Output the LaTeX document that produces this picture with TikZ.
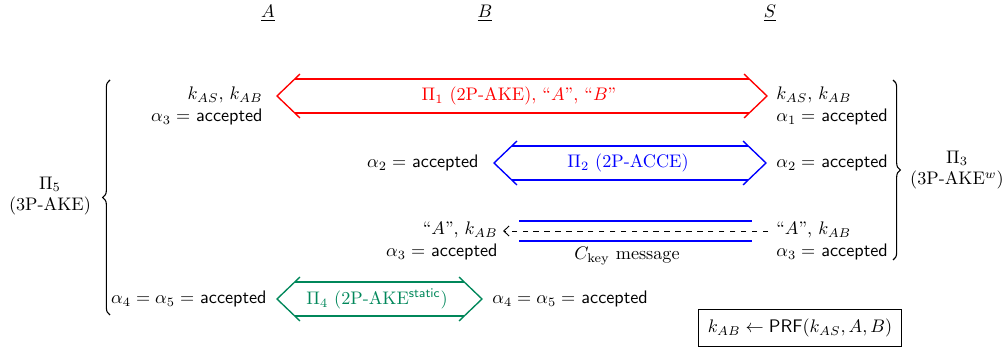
\documentclass[tikz,border=0pt]{standalone}
\usetikzlibrary{calc,arrows.meta,decorations.pathreplacing}
\definecolor{agreen}{RGB}{0,135,90}
\newcommand\acc{\textsf{accepted}}
\newcommand\dblarr[3]{%
  \draw[arrline,#1] ($(#2)+(23,-22)$) -- (#2) -- ($(#2)+(23,22)$);
  \draw[arrline,#1] ($(#3)+(-23,-22)$) -- (#3) -- ($(#3)+(-23,22)$);
  \draw[arrline,#1] ($(#2)+(17.8,-17)$) -- ($(#3)+(-17.8,-17)$);
  \draw[arrline,#1] ($(#2)+(17.8,17)$) -- ($(#3)+(-17.8,17)$);}
\begin{document}
\begin{tikzpicture}[x=0.55pt,y=-0.55pt,
  arrline/.style={line width=0.75pt},
  bracestyle/.style={decorate,decoration={brace,amplitude=4pt},line width=0.6pt},
  lt/.style={anchor=east,align=right,inner sep=0pt},
  rt/.style={anchor=west,align=left,inner sep=0pt},
  lab/.style={inner sep=0pt,align=center}]
\useasboundingbox (0,0) rectangle (1008,349);
% headers
\node[lab] (nA) at (268,13) {$\underline{A}$};
\node[lab] (nB) at (485,13) {$\underline{B}$};
\node[lab] (nS) at (770,13) {$\underline{S}$};
% row 1 (red)
\coordinate (r1L) at (277,96);
\coordinate (r1R) at (767,96);
\dblarr{red}{r1L}{r1R}
\node[lab,text=red] (p1) at (519,96) {$\Pi_1$ (2P-AKE), ``$A$'', ``$B$''};
\node[lt] (a1) at (263,106) {$k_{AS}$, $k_{AB}$\\$\alpha_3 =$ \acc};
\node[rt] (s1) at (776,106) {$k_{AS}$, $k_{AB}$\\$\alpha_1 =$ \acc};
% row 2 (blue)
\coordinate (r2L) at (494,163);
\coordinate (r2R) at (766,163);
\dblarr{blue}{r2L}{r2R}
\node[lab,text=blue] (p2) at (628,163) {$\Pi_2$ (2P-ACCE)};
\node[lt] (b2) at (479,163) {$\alpha_2 =$ \acc};
\node[rt] (s2) at (776,163) {$\alpha_2 =$ \acc};
% row 3 (Ckey)
\coordinate (c1a) at (519,221);
\coordinate (c1b) at (752,221);
\coordinate (c2a) at (519,241);
\coordinate (c2b) at (752,241);
\draw[arrline,blue] (c1a) -- (c1b);
\draw[arrline,blue] (c2a) -- (c2b);
\node[lt] (b3) at (498,241) {``$A$'', $k_{AB}$\\$\alpha_3 =$ \acc};
\node[rt] (s3) at (776,241) {``$A$'', $k_{AB}$\\$\alpha_3 =$ \acc};
\coordinate (dS) at (768,231);
\coordinate (dB) at (503,231);
\draw[dashed,-{Straight Barb[length=3pt,width=5.5pt]},line width=0.5pt] (dS) -- (dB);
\node[lab] (ck) at (627,256) {$C_{\mathrm{key}}$ message};
% row 4 (green)
\coordinate (r4L) at (277,299);
\coordinate (r4R) at (482,299);
\dblarr{agreen}{r4L}{r4R}
\node[lab,text=agreen] (p4) at (377,299) {$\Pi_4$ (2P-AKE$^{\mathsf{static}}$)};
\node[lt] (a4) at (267,299) {$\alpha_4 = \alpha_5 =$ \acc};
\node[rt] (b4) at (492,299) {$\alpha_4 = \alpha_5 =$ \acc};
% braces
\coordinate (lbB) at (110,315);
\coordinate (lbT) at (110,80);
\draw[bracestyle] (lbB) -- (lbT);
\node[lab] (p5) at (50,196) {$\Pi_5$\\(3P-AKE)};
\coordinate (rbT) at (893,80);
\coordinate (rbB) at (893,260);
\draw[bracestyle] (rbT) -- (rbB);
\node[lab] (p3) at (957,170) {$\Pi_3$\\(3P-AKE$^w$)};
% PRF box
\node[draw,line width=0.5pt,inner xsep=5pt,inner ysep=5pt] (prf) at (800,328) {$k_{AB} \leftarrow \textsf{PRF}(k_{AS},A,B)$};
\end{tikzpicture}
\end{document}
